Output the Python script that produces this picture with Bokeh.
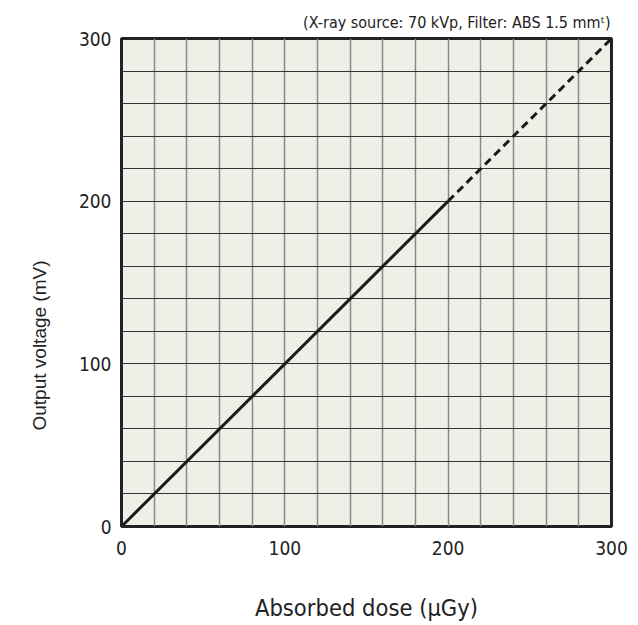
from bokeh.plotting import figure
from bokeh.models import FixedTicker, Title
from bokeh.embed import file_html
from bokeh.resources import INLINE

# Data
dose_solid = [0, 200]
voltage_solid = [0, 200]
dose_dashed = [200, 300]
voltage_dashed = [200, 300]
axis_ticks = [0, 100, 200, 300]
grid_ticks = list(range(0, 301, 20))
title_text = "(X-ray source: 70 kVp, Filter: ABS 1.5 mm\u1d57)"
x_label = "Absorbed dose (\u03bcGy)"
y_label = "Output voltage (mV)"

TICK_FONT = "DejaVu Sans Condensed"
TXT = "#222222"

p = figure(width=628, height=624, x_range=(0, 300), y_range=(0, 300),
           min_border_left=118, min_border_right=17, min_border_top=38,
           min_border_bottom=96, output_backend="svg", toolbar_location=None)

p.background_fill_color = "#f0efe7"
p.border_fill_color = "white"
p.outline_line_color = "#222222"
p.outline_line_width = 3

p.xgrid.ticker = FixedTicker(ticks=grid_ticks)
p.ygrid.ticker = FixedTicker(ticks=grid_ticks)
p.xgrid.grid_line_color = "#888888"
p.xgrid.grid_line_width = 1.5
p.ygrid.grid_line_color = "#333333"
p.ygrid.grid_line_width = 1

for ax in (p.xaxis[0], p.yaxis[0]):
    ax.ticker = FixedTicker(ticks=axis_ticks)
    ax.axis_line_color = None
    ax.major_tick_line_color = None
    ax.minor_tick_line_color = None
    ax.major_tick_out = 0
    ax.major_tick_in = 0
    ax.major_label_text_font = TICK_FONT
    ax.major_label_text_font_size = "19px"
    ax.major_label_text_color = TXT
    ax.axis_label_text_font_style = "normal"
    ax.axis_label_text_color = TXT

p.xaxis.major_label_standoff = 14
p.yaxis.major_label_standoff = 10
p.xaxis.axis_label = x_label
p.xaxis.axis_label_text_font = TICK_FONT
p.xaxis.axis_label_text_font_size = "23.5px"
p.xaxis.axis_label_standoff = 36

# y label (placed off-centre as in the reference)
p.add_layout(Title(text=y_label, align="left", offset=96,
                   vertical_align="bottom", standoff=52,
                   text_font="Liberation Sans", text_font_size="19px",
                   text_font_style="normal", text_color=TXT), "left")

# header note
p.add_layout(Title(text=title_text, align="right", offset=1,
                   vertical_align="bottom", standoff=14,
                   text_font=TICK_FONT, text_font_size="16px",
                   text_font_style="normal", text_color=TXT), "above")

p.line(dose_solid, voltage_solid, line_color="#1a1a1a", line_width=3)
p.line(dose_dashed, voltage_dashed, line_color="#1a1a1a", line_width=3,
       line_dash="8 5")

open("out.html", "w").write(file_html(p, INLINE))
